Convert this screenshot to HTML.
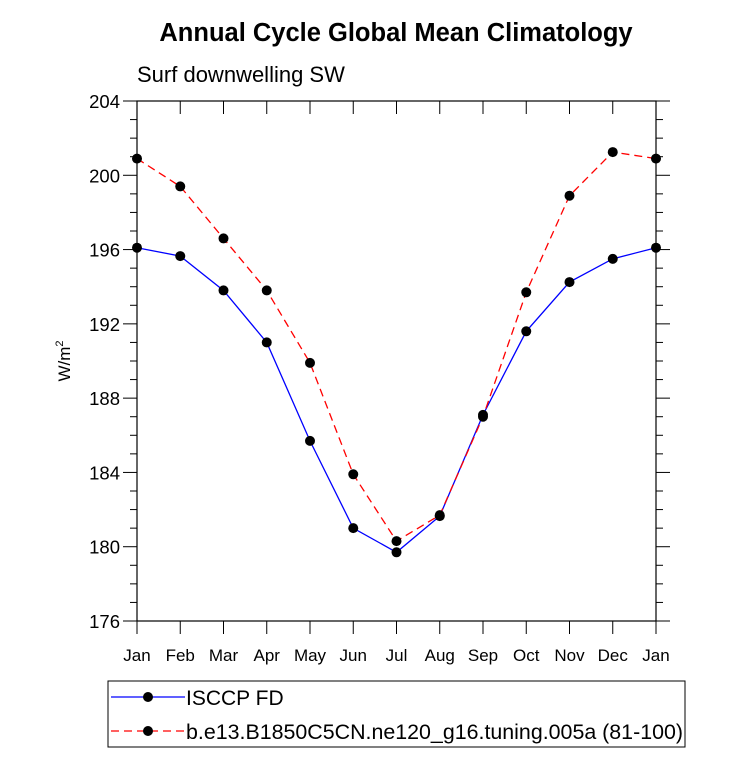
<!DOCTYPE html>
<html><head><meta charset="utf-8"><style>
body{margin:0;background:#fff;}
svg text{font-family:"Liberation Sans",Arial,sans-serif;}
</style></head><body>
<svg id="chart" width="733" height="755" xmlns="http://www.w3.org/2000/svg">
<text x="396" y="41" font-size="25.5" font-weight="bold" text-anchor="middle">Annual Cycle Global Mean Climatology</text>
<text x="137" y="82" font-size="22">Surf downwelling SW</text>
<text transform="translate(70,361) rotate(-90)" font-size="17" text-anchor="middle">W/m<tspan font-size="11" dy="-7">2</tspan></text>
<g id="axes"></g>
<g id="series"></g>
<rect x="108" y="681" width="577" height="66" fill="none" stroke="#000" stroke-width="1"/>
<g>
<line x1="111" y1="697" x2="185" y2="697" stroke="#0000ff" stroke-width="1.2"/>
<circle cx="148" cy="697" r="5" fill="#000"/>
<text x="186" y="705" font-size="21">ISCCP FD</text>
</g>
<g>
<line x1="111" y1="731" x2="185" y2="731" stroke="#ff0000" stroke-width="1.2" stroke-dasharray="8,5"/>
<circle cx="148" cy="731" r="5" fill="#000"/>
<text x="186" y="739" font-size="21" textLength="497" lengthAdjust="spacingAndGlyphs">b.e13.B1850C5CN.ne120_g16.tuning.005a (81-100)</text>
</g>
</svg>
<script>
const months = ["Jan","Feb","Mar","Apr","May","Jun","Jul","Aug","Sep","Oct","Nov","Dec","Jan"];
const isccp = [196.1,195.65,193.8,191.0,185.7,181.0,179.7,181.65,187.1,191.6,194.25,195.5,196.1];
const model = [200.9,199.4,196.6,193.8,189.9,183.9,180.3,181.7,187.0,193.7,198.9,201.25,200.9];
const yTicks = [176,180,184,188,192,196,200,204];
const NS="http://www.w3.org/2000/svg";
const X0=137,X1=656,Y0=621,Y1=101,YMIN=176,YMAX=204;
const xs=i=>X0+(X1-X0)*i/(months.length-1);
const ys=v=>Y0-(v-YMIN)/(YMAX-YMIN)*(Y0-Y1);
function mk(t,a,p){const e=document.createElementNS(NS,t);for(const k in a)e.setAttribute(k,a[k]);p.appendChild(e);return e;}
const ax=document.getElementById('axes');
const frame=mk('rect',{x:X0,y:Y1,width:X1-X0,height:Y0-Y1,fill:'none',stroke:'#000','stroke-width':1.2},ax);


for(let v=YMIN;v<=YMAX;v++){
  const y=ys(v), major=(v-YMIN)%4===0, L=major?14:7;
  mk('line',{x1:X0-L,y1:y,x2:X0,y2:y,stroke:'#000','stroke-width':1},ax);
  mk('line',{x1:X1,y1:y,x2:X1+L,y2:y,stroke:'#000','stroke-width':1},ax);
}
yTicks.forEach(v=>{
  const t=mk('text',{x:X0-17,y:ys(v)+7,'font-size':18.5,'text-anchor':'end'},ax);
  t.textContent=v;
  
  
});
months.forEach((m,i)=>{
  const x=xs(i);
  mk('line',{x1:x,y1:Y0,x2:x,y2:Y0+13,stroke:'#000','stroke-width':1},ax);
  mk('line',{x1:x,y1:Y1,x2:x,y2:Y1+13,stroke:'#000','stroke-width':1},ax);
  const t=mk('text',{x:x,y:661,'font-size':17,'text-anchor':'middle'},ax);
  t.textContent=m;
  
  
});
const sg=document.getElementById('series');
function draw(data,color,dash,name){
  const g=mk('g',{},sg);
  
  
  const pts=data.map((v,i)=>xs(i)+','+ys(v)).join(' ');
  const a={points:pts,fill:'none',stroke:color,'stroke-width':1.3};
  if(dash)a['stroke-dasharray']=dash;
  mk('polyline',a,g);
  data.forEach((v,i)=>{
    const c=mk('circle',{cx:xs(i),cy:ys(v),r:5,fill:'#000'},g);
    
    
  });
}
draw(isccp,'#0000ff',null,'series-isccp');
draw(model,'#ff0000','8,5','series-model');
</script>
</body></html>
